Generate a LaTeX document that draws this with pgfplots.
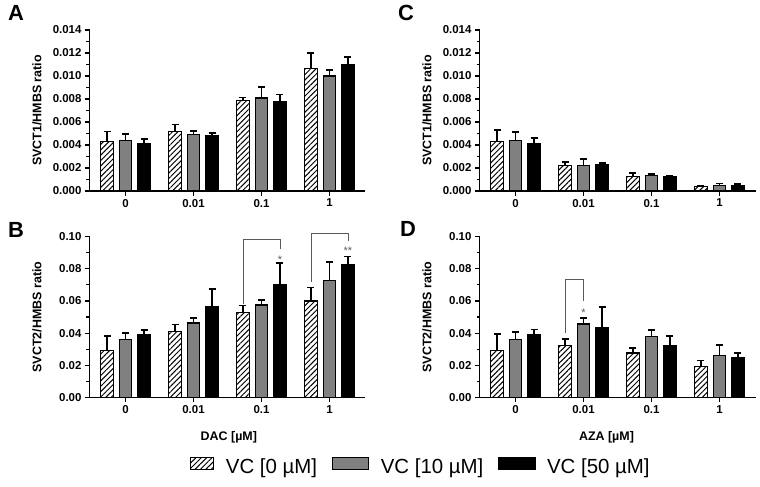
\documentclass[border=0pt]{standalone}
\usepackage{fontspec}
\setmainfont{Liberation Sans}
\usepackage{pgfplots}
\pgfplotsset{compat=1.18}
\usetikzlibrary{patterns.meta}

\definecolor{barGray}{RGB}{128,128,128}
\definecolor{brk}{RGB}{90,90,90}

\pgfplotsset{
  panel/.style={
    scale only axis, width=276bp, height=161bp,
    xmin=-0.53, xmax=3.53, ymin=0,
    axis x line*=bottom, axis y line*=left,
    axis line style={line width=1.4bp},
    xtick={0,1,2,3}, xticklabels={0,0.01,0.1,1},
    minor y tick num=1,
    tick align=outside,
    major tick length=4.5bp, minor tick length=3bp,
    tick style={line width=1.2bp, black},
    ticklabel style={font=\fontsize{11.5}{13}\selectfont\bfseries},
    /pgf/number format/assume math mode=true,
    scaled y ticks=false,
    yticklabel style={/pgf/number format/fixed, /pgf/number format/fixed zerofill},
    label style={font=\fontsize{12.5}{15}\selectfont\bfseries},
    ylabel style={at={(axis description cs:-0.19,0.5)}, anchor=center},
    clip=false,
  },
  barbase/.style={
    ybar, bar width=12.5bp, draw=black, line width=1.3bp,
    error bars/y dir=plus, error bars/y explicit,
    error bars/error mark options={rotate=90, mark size=3.5bp, line width=1.8bp, black},
  },
  hatchbar/.style={barbase, bar shift=-18.5bp,
    error bars/error bar style={line width=1.8bp, black, xshift=-18.5bp},
    pattern={Lines[angle=45, distance=3.8bp, line width=1bp]}, pattern color=black,
    legend image code/.code={\draw[line width=1.2bp, pattern={Lines[angle=45, distance=3.8bp, line width=1bp]}] (0bp,-2bp) rectangle (23bp,10bp);}},
  graybar/.style={barbase, bar shift=0bp,
    error bars/error bar style={line width=1.8bp, black},
    fill=barGray,
    legend image code/.code={\draw[line width=1.2bp, fill=barGray] (0bp,-2bp) rectangle (36bp,10bp);}},
  blackbar/.style={barbase, bar shift=18.5bp,
    error bars/error bar style={line width=1.8bp, black, xshift=18.5bp},
    fill=black,
    legend image code/.code={\draw[line width=1.2bp, fill=black] (0bp,-2bp) rectangle (36bp,10bp);}},
  bracket/.style={sharp plot, no marks, color=brk, line width=0.9bp, forget plot},
}

\begin{document}
\begin{tikzpicture}
\useasboundingbox (0,0) rectangle (760bp,-487bp);

% panel letters
\node[font=\fontsize{22}{26}\selectfont\bfseries] at (16bp,-13bp) {A};
\node[font=\fontsize{22}{26}\selectfont\bfseries] at (16bp,-230bp) {B};
\node[font=\fontsize{22}{26}\selectfont\bfseries] at (406bp,-13bp) {C};
\node[font=\fontsize{22}{26}\selectfont\bfseries] at (408bp,-229bp) {D};

% A: SVCT1, DAC
\begin{axis}[panel, at={(89.5bp,-191bp)}, anchor=south west,
  ymax=0.014, ytick={0,0.002,0.004,0.006,0.008,0.010,0.012,0.014},
  yticklabel style={/pgf/number format/precision=3},
  ylabel={SVCT1/HMBS ratio}]
\addplot[hatchbar] table[x=x, y=y, y error=e, row sep=\\] {
x y e \\ 0 0.0043 0.00087 \\ 1 0.0052 0.00058 \\ 2 0.0079 0.00023 \\ 3 0.01067 0.0013 \\ };
\addplot[graybar] table[x=x, y=y, y error=e, row sep=\\] {
x y e \\ 0 0.0044 0.00057 \\ 1 0.0049 0.00035 \\ 2 0.0081 0.00095 \\ 3 0.0100 0.00052 \\ };
\addplot[blackbar] table[x=x, y=y, y error=e, row sep=\\] {
x y e \\ 0 0.0041 0.00043 \\ 1 0.0048 0.00023 \\ 2 0.0078 0.0006 \\ 3 0.01096 0.00066 \\ };
\end{axis}

% C: SVCT1, AZA
\begin{axis}[panel, at={(479.5bp,-191bp)}, anchor=south west,
  ymax=0.014, ytick={0,0.002,0.004,0.006,0.008,0.010,0.012,0.014},
  yticklabel style={/pgf/number format/precision=3},
  ylabel={SVCT1/HMBS ratio}]
\addplot[hatchbar] table[x=x, y=y, y error=e, row sep=\\] {
x y e \\ 0 0.0043 0.001 \\ 1 0.0022 0.0003 \\ 2 0.00128 0.0003 \\ 3 0.00038 0.00005 \\ };
\addplot[graybar] table[x=x, y=y, y error=e, row sep=\\] {
x y e \\ 0 0.0044 0.0007 \\ 1 0.0022 0.0006 \\ 2 0.00133 0.00015 \\ 3 0.00046 0.0002 \\ };
\addplot[blackbar] table[x=x, y=y, y error=e, row sep=\\] {
x y e \\ 0 0.0041 0.0005 \\ 1 0.00226 0.0002 \\ 2 0.00122 0.0001 \\ 3 0.00049 0.00012 \\ };
\end{axis}

% B: SVCT2, DAC
\begin{axis}[panel, at={(89.5bp,-397.5bp)}, anchor=south west,
  ymax=0.10, ytick={0,0.02,0.04,0.06,0.08,0.10},
  yticklabel style={/pgf/number format/precision=2},
  ylabel={SVCT2/HMBS ratio},
  xlabel={DAC [µM]},
  xlabel style={at={(axis description cs:0.505,-0.245)}, anchor=center},
  legend columns=3,
  legend style={draw=none, fill=none, at={(axis description cs:1.201,-0.432)}, anchor=center,
    font=\fontsize{20.5}{24}\selectfont,
    /tikz/every odd column/.append style={column sep=9.5bp},
    /tikz/every even column/.append style={column sep=13bp}},
  legend cell align=left]
\addplot[hatchbar] table[x=x, y=y, y error=e, row sep=\\] {
x y e \\ 0 0.0290 0.0092 \\ 1 0.0409 0.0045 \\ 2 0.0527 0.0044 \\ 3 0.0600 0.0083 \\ };
\addlegendentry{VC [0 µM]}
\addplot[graybar] table[x=x, y=y, y error=e, row sep=\\] {
x y e \\ 0 0.0361 0.0041 \\ 1 0.0463 0.0033 \\ 2 0.0575 0.0031 \\ 3 0.0726 0.0116 \\ };
\addlegendentry{VC [10 µM]}
\addplot[blackbar] table[x=x, y=y, y error=e, row sep=\\] {
x y e \\ 0 0.0392 0.0027 \\ 1 0.0562 0.0110 \\ 2 0.0699 0.0135 \\ 3 0.0824 0.0052 \\ };
\addlegendentry{VC [50 µM]}
\addplot[bracket] coordinates {(1.728,0.058) (1.728,0.098) (2.272,0.098) (2.272,0.0924)};
\addplot[bracket] coordinates {(2.728,0.0718) (2.728,0.1017) (3.272,0.1017) (3.272,0.0974)};
\node[font=\fontsize{11}{12}\selectfont, text=brk] at (axis cs:2.272,0.0855) {*};
\node[font=\fontsize{11}{12}\selectfont, text=brk] at (axis cs:3.272,0.0911) {**};
\end{axis}

% D: SVCT2, AZA
\begin{axis}[panel, at={(479.5bp,-397.5bp)}, anchor=south west,
  ymax=0.10, ytick={0,0.02,0.04,0.06,0.08,0.10},
  yticklabel style={/pgf/number format/precision=2},
  ylabel={SVCT2/HMBS ratio},
  xlabel={AZA [µM]},
  xlabel style={at={(axis description cs:0.46,-0.245)}, anchor=center}]
\addplot[hatchbar] table[x=x, y=y, y error=e, row sep=\\] {
x y e \\ 0 0.0290 0.0104 \\ 1 0.0322 0.0041 \\ 2 0.0276 0.0031 \\ 3 0.0193 0.0037 \\ };
\addplot[graybar] table[x=x, y=y, y error=e, row sep=\\] {
x y e \\ 0 0.0361 0.0046 \\ 1 0.0456 0.0036 \\ 2 0.0377 0.0042 \\ 3 0.0263 0.0061 \\ };
\addplot[blackbar] table[x=x, y=y, y error=e, row sep=\\] {
x y e \\ 0 0.0392 0.0031 \\ 1 0.0436 0.0124 \\ 2 0.0319 0.0063 \\ 3 0.0245 0.0029 \\ };
\addplot[bracket] coordinates {(0.728,0.0402) (0.728,0.0731) (1.0,0.0731) (1.0,0.0601)};
\node[font=\fontsize{11}{12}\selectfont, text=brk] at (axis cs:1.0,0.0525) {*};
\end{axis}
\end{tikzpicture}
\end{document}
